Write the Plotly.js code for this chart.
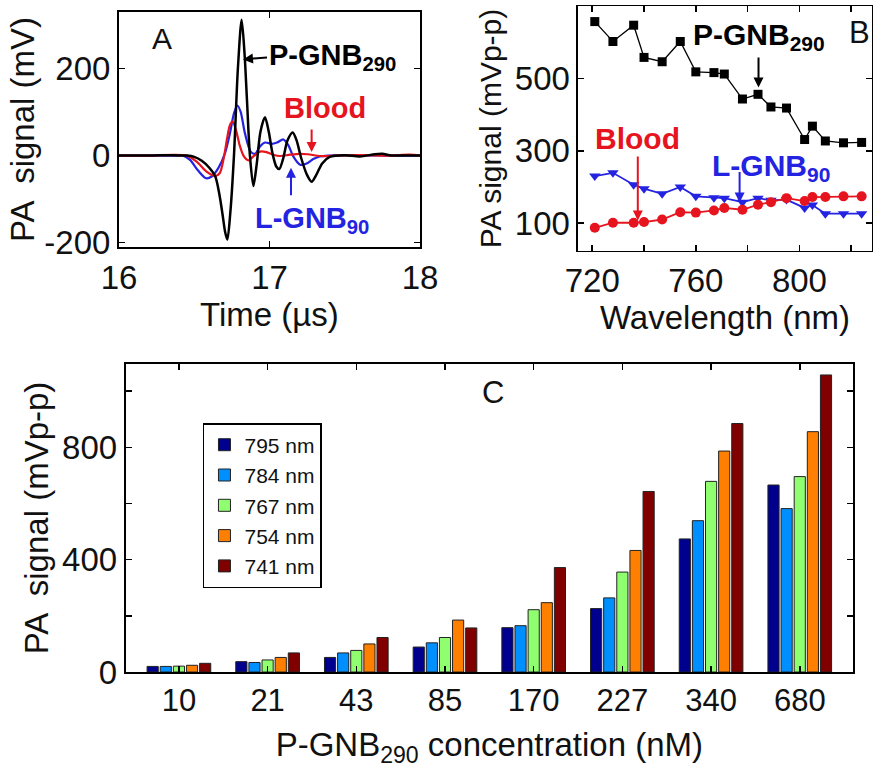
<!DOCTYPE html>
<html>
<head>
<meta charset="utf-8">
<script src="https://cdn.plot.ly/plotly-3.0.1.min.js"></script>
<style>html,body{margin:0;padding:0;background:#fff;}#chart{width:884px;height:772px;}</style>
</head>
<body>
<div id="chart"></div>
<script>
// ---------- Panel A: PA signal vs time ----------
const tBlack = [16.00,16.20,16.35,16.45,16.50,16.55,16.60,16.64,16.67,16.69,16.705,16.72,16.74,16.764,16.79,16.815,16.835,16.85,16.87,16.893,16.915,16.94,16.97,16.995,17.02,17.045,17.065,17.09,17.12,17.154,17.18,17.21,17.25,17.28,17.31,17.35,17.40,17.50,17.60,17.70,17.75,17.80,17.90,18.00];
const vBlack = [0,0,1,0,-3,-12,-28,-48,-95,-140,-175,-193,-130,0,200,312,230,130,0,-70,-20,55,88,55,5,-25,-31,-8,35,53,35,-5,-45,-60,-45,-18,-3,1,-2,3,4,1,0,0];
const tBlue = [16.00,16.20,16.40,16.427,16.472,16.527,16.578,16.616,16.66,16.704,16.737,16.764,16.786,16.808,16.837,16.875,16.904,16.937,16.97,17.015,17.05,17.092,17.125,17.158,17.203,17.247,17.291,17.335,17.40,17.60,17.80,18.00];
const vBlue = [0,0,0,0,-10,-35,-52,-48,-29,5,51,97,115,101,51,9,4,21,30,27,30,37,24,-2,-21,-18,-8,-2,0,1,0,0];
const tRed = [16.00,16.20,16.45,16.516,16.582,16.638,16.67,16.698,16.72,16.737,16.755,16.777,16.804,16.83,16.86,16.893,16.937,16.98,17.025,17.07,17.137,17.20,17.256,17.335,17.45,17.60,17.80,17.93,18.00];
const vRed = [0,0,0,-14,-37,-47,-40,-2,43,70,78,59,21,-2,-11,-2,9,8,2,-1,2,4,3,-1,0,1,0,2,0];
const aTicks = [-200,0,200];
const aTickText = ['-200','0','200'];

// ---------- Panel B: PA signal vs wavelength ----------
const wavelength = [721,728,736,740,747,754,760,767,771,778,784,789,795,802,805,810,817,824];
const bPGNB = [657,602,647,558,546,602,518,516,512,443,456,421,418,331,368,327,322,323];
const bLGNB = [230,239,206,195,181,200,174,170,169,158,169,163,165,142,150,126,126,126];
const bBlood = [87,101,101,103,110,130,129,135,142,137,151,158,169,161,172,172,174,174];
const bYTicks = [100,300,500];

// ---------- Panel C: bars vs concentration ----------
const concentration = ['10','21','43','85','170','227','340','680'];
const nm795 = [20,37,52,89,158,226,474,666];
const nm784 = [20,34,68,104,165,264,539,582];
const nm767 = [21,43,77,123,222,356,679,696];
const nm754 = [24,52,100,185,247,433,787,856];
const nm741 = [31,68,123,157,372,643,885,1058];
const barNames = ['795 nm','784 nm','767 nm','754 nm','741 nm'];
const barColors = ['#00008F','#008FFF','#8FFF70','#FF7F00','#800000'];

const RED = 'rgb(230,20,30)', BLUE = 'rgb(35,35,225)';
const FONT = 'Liberation Sans, Arial, sans-serif';
const TICK = 33, TITLE = 33;

const traces = [
  {x:tBlue, y:vBlue, type:'scatter', mode:'lines', line:{color:BLUE,width:2.2,shape:'spline',smoothing:0.8}, xaxis:'x', yaxis:'y', showlegend:false},
  {x:tRed, y:vRed, type:'scatter', mode:'lines', line:{color:RED,width:2.2,shape:'spline',smoothing:0.8}, xaxis:'x', yaxis:'y', showlegend:false},
  {x:tBlack, y:vBlack, type:'scatter', mode:'lines', line:{color:'#000',width:2.5,shape:'spline',smoothing:0.8}, xaxis:'x', yaxis:'y', showlegend:false},

  {x:wavelength, y:bPGNB, type:'scatter', mode:'lines+markers', line:{color:'#000',width:1.3}, marker:{symbol:'square',size:9,color:'#000'}, xaxis:'x2', yaxis:'y2', showlegend:false},
  {x:wavelength, y:bLGNB, type:'scatter', mode:'lines+markers', line:{color:BLUE,width:1.8}, marker:{symbol:'triangle-down',size:10,color:BLUE}, xaxis:'x2', yaxis:'y2', showlegend:false},
  {x:wavelength, y:bBlood, type:'scatter', mode:'lines+markers', line:{color:RED,width:1.8}, marker:{symbol:'circle',size:10,color:RED}, xaxis:'x2', yaxis:'y2', showlegend:false}
];
const barData = [nm795,nm784,nm767,nm754,nm741];
barData.forEach((vals,i)=>{
  traces.push({x:concentration, y:vals, type:'bar', name:barNames[i],
    marker:{color:barColors[i], line:{color:'#222',width:1}}, xaxis:'x3', yaxis:'y3'});
});

const axBase = {showline:true, linecolor:'#000', mirror:'ticks', ticks:'inside', ticklen:6, tickwidth:1.5, tickcolor:'#000', showgrid:false, zeroline:false, tickfont:{family:FONT,size:TICK,color:'#111'}};
const minorBase = {ticks:'inside', ticklen:6, tickwidth:1.5, tickcolor:'#000', showgrid:false};
const tfont = {family:FONT,size:TITLE,color:'#111'};

const layout = {
  width:884, height:772, margin:{l:0,r:0,t:0,b:0}, paper_bgcolor:'#fff', plot_bgcolor:'#fff',
  font:{family:FONT,color:'#111'},
  showlegend:true,
  barmode:'group', bargap:0.26, bargroupgap:0.15,
  legend:{x:0.2296, y:0.452, xanchor:'left', yanchor:'top', bgcolor:'#fff', bordercolor:'#000', borderwidth:1.5,
          font:{family:FONT,size:21,color:'#111'}, tracegroupgap:0, traceorder:'normal', itemwidth:30},
  xaxis: Object.assign({}, axBase, {domain:[0.1346,0.4751], range:[16,18], tickvals:[16,17,18], anchor:'y', linewidth:2,
          title:{text:'Time (µs)', font:tfont, standoff:1}}),
  yaxis: Object.assign({}, axBase, {domain:[0.6801,0.9845], range:[-210,330], tickvals:aTicks, ticktext:aTickText, anchor:'x', linewidth:2,
          title:{text:'PA  signal (mV)', font:tfont, standoff:0}}),
  xaxis2: Object.assign({}, axBase, {domain:[0.6538,0.9864], range:[714.5,828], tick0:720, dtick:40, anchor:'y2', linewidth:1.5,
          minor:Object.assign({}, minorBase, {tick0:720, dtick:20}),
          title:{text:'Wavelength (nm)', font:tfont, standoff:0}}),
  yaxis2: Object.assign({}, axBase, {domain:[0.6749,0.9922], range:[23,700], tickvals:bYTicks, anchor:'x2', linewidth:1.5,
          title:{text:'PA signal (mVp-p)', font:{family:FONT,size:30,color:'#111'}, standoff:4}}),
  xaxis3: Object.assign({}, axBase, {domain:[0.1422,0.9649], type:'category', range:[-0.6,7.6], anchor:'y3', linewidth:2,
          tickfont:{family:FONT,size:31,color:'#111'},
          title:{text:'P-GNB<sub>290</sub> concentration (nM)', font:tfont, standoff:16}}),
  yaxis3: Object.assign({}, axBase, {domain:[0.1295,0.5285], range:[0,1097], tick0:0, dtick:400, anchor:'x3', linewidth:2,
          minor:Object.assign({}, minorBase, {tick0:0, dtick:200}),
          title:{text:'PA  signal (mVp-p)', font:tfont, standoff:3}}),
  annotations:[
    {xref:'x', yref:'y', x:16.286, y:269, text:'A', showarrow:false, font:{family:FONT,size:30,color:'#111'}},
    {xref:'x', yref:'y', x:16.824, y:221, ax:24, ay:-2, xanchor:'left', yanchor:'middle', text:'<b>P-GNB<sub>290</sub></b>', showarrow:true, arrowhead:2, arrowsize:1, arrowwidth:2, arrowcolor:'#000', font:{family:FONT,size:29,color:'#000'}},
    {xref:'x', yref:'y', x:17.369, y:109, text:'<b>Blood</b>', showarrow:false, font:{family:FONT,size:29,color:RED}},
    {xref:'x', yref:'y', x:17.280, y:8, ax:0, ay:-24, text:'', showarrow:true, arrowhead:2, arrowsize:1, arrowwidth:2, arrowcolor:RED},
    {xref:'x', yref:'y', x:16.89, y:-147, xanchor:'left', text:'<b>L-GNB<sub>90</sub></b>', showarrow:false, font:{family:FONT,size:29,color:BLUE}},
    {xref:'x', yref:'y', x:17.143, y:-28, ax:0, ay:29, text:'', showarrow:true, arrowhead:2, arrowsize:1, arrowwidth:2, arrowcolor:BLUE},

    {xref:'x2', yref:'y2', x:823.1, y:628, text:'B', showarrow:false, font:{family:FONT,size:31,color:'#111'}},
    {xref:'x2', yref:'y2', x:784.2, y:475, ax:0, ay:-30, xanchor:'center', yanchor:'bottom', text:'<b>P-GNB<sub>290</sub></b>', showarrow:true, arrowhead:2, arrowsize:1, arrowwidth:2, arrowcolor:'#000', font:{family:FONT,size:30,color:'#000'}},
    {xref:'x2', yref:'y2', x:737.6, y:107, ax:0, ay:-64, xanchor:'center', yanchor:'bottom', text:'<b>Blood</b>', showarrow:true, arrowhead:2, arrowsize:1, arrowwidth:2, arrowcolor:RED, font:{family:FONT,size:30,color:RED}},
    {xref:'x2', yref:'y2', x:765.4, y:255, xanchor:'left', text:'<b>L-GNB<sub>90</sub></b>', showarrow:false, font:{family:FONT,size:30,color:BLUE}},
    {xref:'x2', yref:'y2', x:776.9, y:157, ax:0, ay:-32, text:'', showarrow:true, arrowhead:2, arrowsize:1, arrowwidth:2, arrowcolor:BLUE},

    {xref:'paper', yref:'paper', x:0.5577, y:0.4922, text:'C', showarrow:false, font:{family:FONT,size:31,color:'#111'}}
  ]
};

Plotly.newPlot('chart', traces, layout, {displayModeBar:false, staticPlot:true});
</script>
</body>
</html>
